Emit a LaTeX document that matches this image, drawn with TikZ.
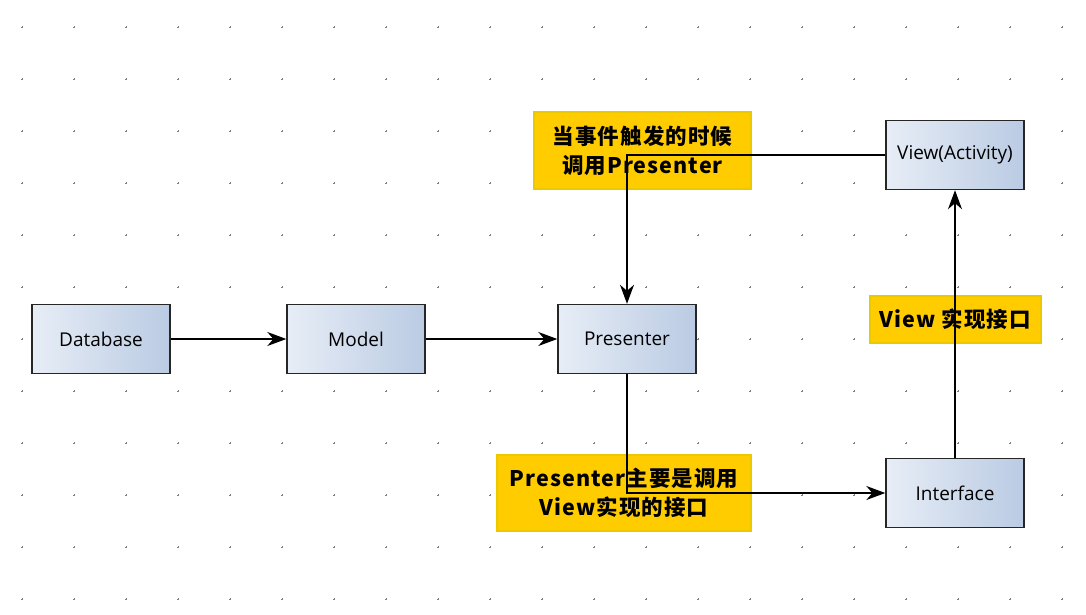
\documentclass[tikz,border=0pt]{standalone}
\usepackage{fontspec}
\setmainfont{Open Sans}
\newfontfamily\notefont[LetterSpace=5]{Noto Sans CJK SC}
\usetikzlibrary{arrows.meta,positioning}
\definecolor{boxleft}{RGB}{231,237,246}
\definecolor{boxright}{RGB}{186,203,227}
\definecolor{notefill}{RGB}{255,204,0}
\definecolor{noteedge}{RGB}{236,200,0}
\tikzset{
  block/.style={draw=black!85,line width=1.4pt,left color=boxleft,right color=boxright,
    minimum width=138pt,minimum height=69pt,inner sep=0pt,font=\fontsize{19}{22}\selectfont},
  note/.style={draw=noteedge,line width=1.4pt,fill=notefill,inner sep=0pt,align=center,
    font=\notefont\bfseries\fontsize{21.5}{29}\selectfont},
  link/.style={line width=1.2pt,-{Stealth[length=19pt,width=14pt,inset=6pt]}},
}
\begin{document}
\begin{tikzpicture}[x=1pt,y=-1pt]
\useasboundingbox (0,0) rectangle (1086,614);
% dotted grid
\foreach \i in {0,...,20} {
  \foreach \j in {0,...,11} {
    \draw[gray,line width=.5pt] (22+52*\i-1.2,27+52*\j) -- +(2.4,0) (22+52*\i,27+52*\j-1.2) -- +(0,2.4);
  }
}
\node[block] (db) at (101,339) {Database};
\node[block,right=115.6pt of db] (model) {Model};
\node[block,right=131.6pt of model] (pres) {Presenter};
\node[block] (view) at (955,155) {View(Activity)};
\node[block] (iface) at (955,493) {Interface};
% notes under the lines
\node[note,minimum width=217pt,minimum height=77pt] (n1) at (642.5,150.5) {当事件触发的时候\\调用Presenter};
\node[note,minimum width=254pt,minimum height=76pt] (n2) at (624,493) {Presenter主要是调用\\View实现的接口};
\node[note,minimum width=171pt,minimum height=47pt] (n3) at (955.5,319.5) {View 实现接口};
\draw[link] (db) -- (model);
\draw[link] (model) -- (pres);
\draw[link] (view.west) -- (pres.north |- view.west) -- (pres.north);
\draw[link] (pres.south) -- (pres.south |- iface.west) -- (iface.west);
\draw[link] (iface) -- (view);
\end{tikzpicture}
\end{document}
